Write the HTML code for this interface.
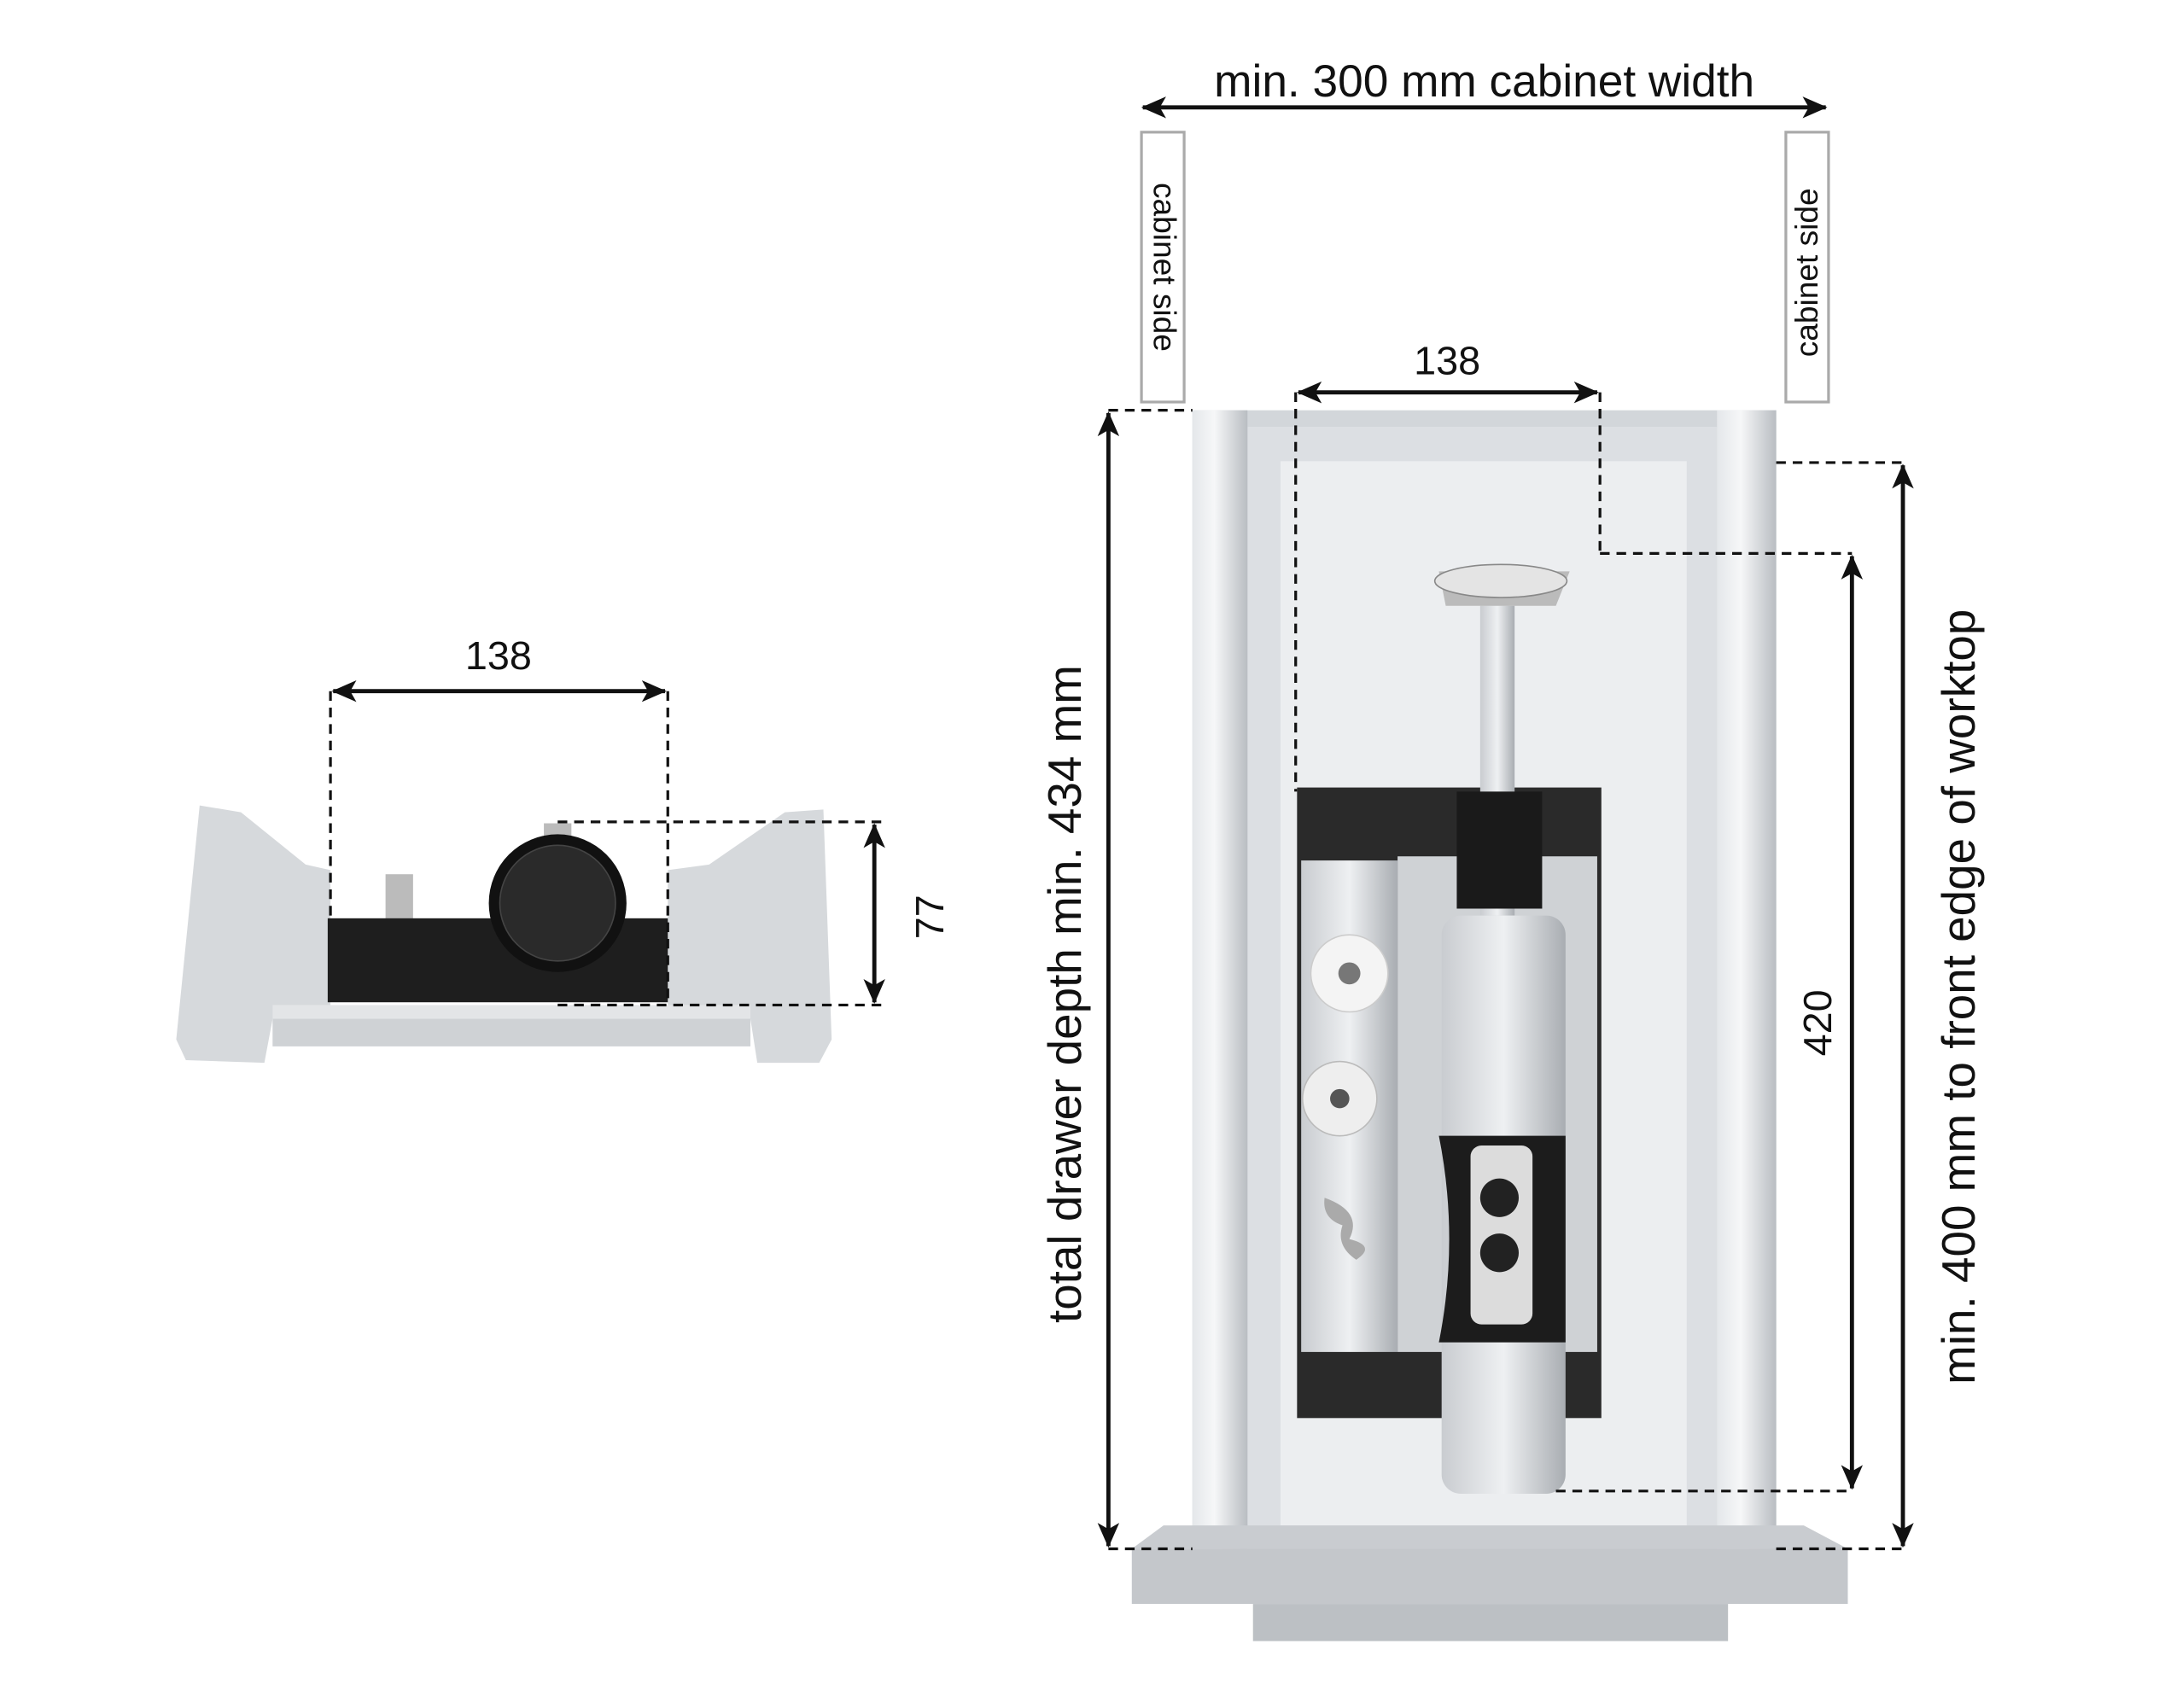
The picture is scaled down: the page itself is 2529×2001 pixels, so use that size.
<!DOCTYPE html>
<html><head><meta charset="utf-8"><style>
html,body{margin:0;padding:0;background:#fff;width:2529px;height:2001px;overflow:hidden}
svg{display:block}
text{font-family:"Liberation Sans",sans-serif;fill:#111}
</style></head><body>
<svg width="2529" height="2001" viewBox="0 0 1568 1240.6" preserveAspectRatio="none" xmlns="http://www.w3.org/2000/svg">
<defs>
<marker id="a" viewBox="0 0 16 14" refX="15" refY="7" markerWidth="18" markerHeight="16" markerUnits="userSpaceOnUse" orient="auto-start-reverse"><path d="M0,0 L16,7 L0,14 L4,7 Z" fill="#111"/></marker>
<linearGradient id="sil" x1="0" x2="1"><stop offset="0" stop-color="#c9ccd0"/><stop offset=".5" stop-color="#eef0f2"/><stop offset="1" stop-color="#a9adb2"/></linearGradient>
<linearGradient id="wall" x1="0" x2="1"><stop offset="0" stop-color="#e4e7ea"/><stop offset=".4" stop-color="#f6f7f8"/><stop offset="1" stop-color="#b9bdc2"/></linearGradient>
</defs>
<line x1="830" y1="78" x2="1326" y2="78" stroke="#111" stroke-width="3" marker-start="url(#a)" marker-end="url(#a)"/>
<text x="1078" y="70" font-size="33" text-anchor="middle">min. 300 mm cabinet width</text>
<rect x="829" y="96" width="31" height="196" fill="#fff" stroke="#aaa" stroke-width="2"/>
<rect x="1297" y="96" width="31" height="196" fill="#fff" stroke="#aaa" stroke-width="2"/>
<text transform="translate(838,194) rotate(90)" font-size="23" text-anchor="middle">cabinet side</text>
<text transform="translate(1320,198) rotate(-90)" font-size="23" text-anchor="middle">cabinet side</text>
<rect x="866" y="298" width="424" height="828" fill="#d2d6da"/>
<rect x="906" y="310" width="341" height="810" fill="#dcdfe3"/>
<rect x="930" y="335" width="295" height="773" fill="#eceef0"/>
<rect x="866" y="298" width="40" height="828" fill="url(#wall)"/>
<rect x="1247" y="298" width="43" height="828" fill="url(#wall)"/>
<path d="M845,1108 L1310,1108 L1342,1125 L822,1125 Z" fill="#c9ccd0"/>
<rect x="822" y="1125" width="520" height="40" fill="#c4c7cb"/>
<rect x="910" y="1165" width="345" height="27" fill="#bcc0c4"/>
<rect x="942" y="572" width="221" height="458" fill="#2a2a2a"/>
<rect x="1015" y="622" width="145" height="360" fill="#cfd2d5"/>
<rect x="945" y="625" width="70" height="357" fill="url(#sil)"/>
<circle cx="980" cy="707" r="28" fill="#f4f4f4" stroke="#ccc"/><circle cx="980" cy="707" r="8" fill="#777"/>
<circle cx="973" cy="798" r="27" fill="#eee" stroke="#bbb"/><circle cx="973" cy="798" r="7" fill="#555"/>
<path d="M962,870 Q990,880 980,900 Q1000,905 985,915 Q970,905 975,890 Q960,885 962,870Z" fill="#aaa"/>
<rect x="1075" y="440" width="25" height="225" fill="url(#sil)"/>
<path d="M1045,415 L1140,415 L1130,440 L1050,440 Z" fill="#bbb"/>
<ellipse cx="1090" cy="422" rx="48" ry="12" fill="#e4e4e4" stroke="#888"/>
<path d="M1058,575 L1120,575 L1120,660 L1058,660 Z" fill="#1a1a1a"/>
<rect x="1047" y="665" width="90" height="420" rx="14" fill="url(#sil)"/>
<path d="M1045,825 L1137,825 L1137,975 L1045,975 Q1060,900 1045,825Z" fill="#1c1c1c"/>
<rect x="1068" y="832" width="45" height="130" rx="8" fill="#dcdcdc"/>
<circle cx="1089" cy="870" r="14" fill="#222"/><circle cx="1089" cy="910" r="14" fill="#222"/>
<g stroke="#111" stroke-width="2" stroke-dasharray="7,5" fill="none">
<path d="M941,285 V575 M1162,285 V400 M1162,402 H1345 M1130,1083 H1345 M805,298 H866 M805,1125 H866 M1290,336 H1382 M1290,1125 H1382"/>
</g>
<line x1="943" y1="285" x2="1160" y2="285" stroke="#111" stroke-width="3" marker-start="url(#a)" marker-end="url(#a)"/>
<text x="1051" y="272" font-size="29" text-anchor="middle">138</text>
<line x1="805" y1="300" x2="805" y2="1123" stroke="#111" stroke-width="3" marker-start="url(#a)" marker-end="url(#a)"/>
<text transform="translate(785,722) rotate(-90)" font-size="34" text-anchor="middle">total drawer depth  min. 434 mm</text>
<line x1="1345" y1="404" x2="1345" y2="1081" stroke="#111" stroke-width="3" marker-start="url(#a)" marker-end="url(#a)"/>
<text transform="translate(1330,743) rotate(-90)" font-size="29" text-anchor="middle">420</text>
<line x1="1382" y1="338" x2="1382" y2="1123" stroke="#111" stroke-width="3" marker-start="url(#a)" marker-end="url(#a)"/>
<text transform="translate(1434,724) rotate(-90)" font-size="34" text-anchor="middle">min. 400 mm to front edge of worktop</text>
<path d="M145,585 L175,590 L222,628 L240,632 L240,740 L198,740 L192,772 L135,770 L128,755 Z" fill="#d6d9dc"/>
<path d="M598,588 L570,590 L515,628 L485,632 L485,740 L545,740 L550,772 L595,772 L604,755 Z" fill="#d6d9dc"/>
<rect x="198" y="730" width="347" height="30" fill="#e3e5e7"/>
<rect x="198" y="740" width="347" height="20" fill="#cfd2d5"/>
<rect x="280" y="635" width="20" height="35" fill="#bbb"/>
<rect x="238" y="667" width="247" height="61" fill="#1e1e1e"/>
<rect x="395" y="598" width="20" height="14" fill="#bbb"/>
<circle cx="405" cy="656" r="50" fill="#111"/>
<circle cx="405" cy="656" r="42" fill="#2a2a2a" stroke="#444"/>
<g stroke="#111" stroke-width="2" stroke-dasharray="7,5" fill="none">
<path d="M240,502 V665 M485,502 V730 M405,597 H640 M405,730 H640"/>
</g>
<line x1="242" y1="502" x2="483" y2="502" stroke="#111" stroke-width="3" marker-start="url(#a)" marker-end="url(#a)"/>
<text x="362" y="486" font-size="29" text-anchor="middle">138</text>
<line x1="635" y1="599" x2="635" y2="728" stroke="#111" stroke-width="3" marker-start="url(#a)" marker-end="url(#a)"/>
<text transform="translate(685,666) rotate(-90)" font-size="29" text-anchor="middle">77</text>
</svg>
</body></html>
